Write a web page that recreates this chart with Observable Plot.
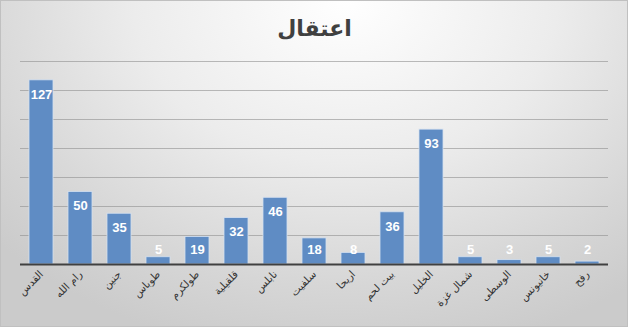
<!DOCTYPE html>
<html><head><meta charset="utf-8">
<script src="https://cdn.jsdelivr.net/npm/d3@7"></script>
<script src="https://cdn.jsdelivr.net/npm/@observablehq/plot@0.6"></script>
<style>
body{margin:0}
#c{position:relative;width:628px;height:327px;
background:radial-gradient(ellipse 75% 110% at 55% 0%, #ffffff 0%, #ececec 45%, #d6d6d6 80%, #cbcbcb 100%);
box-shadow:inset 0 0 0 1px #c0c0c0}
</style>
</head><body><div id="c"></div>
<script>
const title = "اعتقال";
const regions = ["القدس","رام الله","جنين","طوباس","طولكرم","قلقيلية","نابلس","سلفيت","اريحا","بيت لحم","الخليل","شمال غزة","الوسطى","خانيونس","رفح"];
const arrests = [127,50,35,5,19,32,46,18,8,36,93,5,3,5,2];
const yTicks = [20,40,60,80,100,120,140];

const data = regions.map((r,i)=>({region:r, value:arrests[i]}));

const chart = Plot.plot({
  width:628, height:327,
  marginTop:61, marginBottom:63, marginLeft:20, marginRight:20,
  style:{background:"transparent", fontFamily:"DejaVu Sans, sans-serif"},
  x:{domain:regions, paddingInner:0.39, paddingOuter:0.195, label:null, axis:null},
  y:{domain:[0,140], axis:null},
  marks:[
    Plot.ruleY(yTicks,{stroke:"#8f8f8f", strokeOpacity:0.6}),
    Plot.barY(data,{x:"region", y:"value", fill:"#5f8cc4", stroke:"#d4e0f0", strokeWidth:0.8}),
    Plot.ruleY([0],{stroke:"#404040", strokeWidth:2}),
    Plot.axisX({tickRotate:-45, tickSize:0, tickPadding:8, fontSize:10.5, fill:"#333", label:null}),
    Plot.text(data,{x:"region", y:d=>Math.max(d.value-9.7,10.3), text:"value", fill:"white", fontWeight:"bold", fontSize:13, fontFamily:"Liberation Sans, sans-serif"}),
    Plot.text([title],{frameAnchor:"top", lineAnchor:"middle", dy:-33, fontSize:22, fontWeight:"bold", fill:"#404040"})
  ]
});
document.getElementById("c").appendChild(chart);
</script>
</body></html>
